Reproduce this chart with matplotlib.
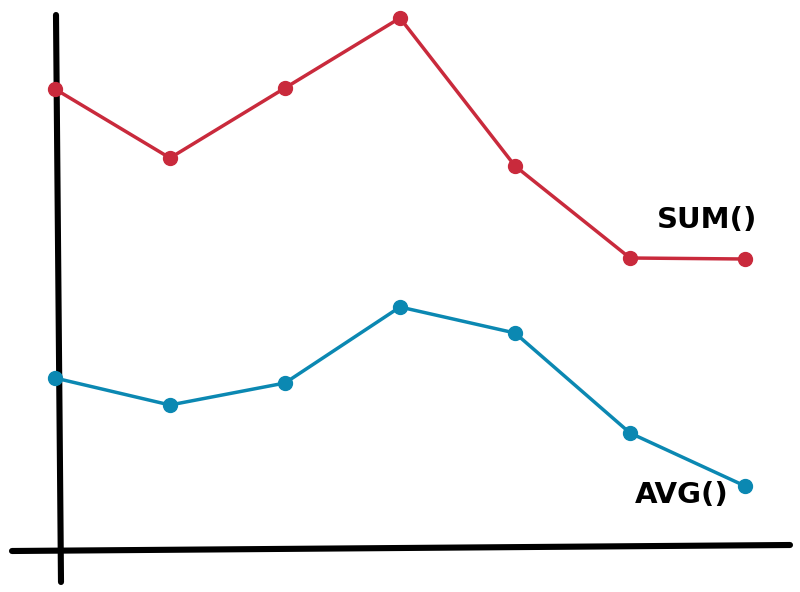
import matplotlib
matplotlib.use("Agg")
import matplotlib.pyplot as plt

# Data (arbitrary units)
periods = [0, 1, 2, 3, 4, 5, 6]
sum_values = [460, 391, 461, 531, 383, 291, 290]
avg_values = [171, 144, 166, 242, 216, 116, 63]
series_labels = ["SUM()", "AVG()"]

RED = "#c92a3c"
BLUE = "#0b88b2"

fig = plt.figure(figsize=(8, 5.92), dpi=100)
ax = fig.add_axes([0, 0, 1, 1])
ax.set_xlim(-0.478, 6.478)
ax.set_ylim(-43, 549)
ax.axis("off")

# hand-drawn style axes (in axes fraction coordinates)
ax.plot([56 / 800, 61 / 800], [1 - 15 / 592, 1 - 582 / 592], transform=ax.transAxes,
        color="black", lw=4.4, solid_capstyle="round", zorder=1)
ax.plot([12 / 800, 790 / 800], [1 - 551 / 592, 1 - 545 / 592], transform=ax.transAxes,
        color="black", lw=4.4, solid_capstyle="round", zorder=1)

ax.plot(periods, sum_values, color=RED, lw=2.5, marker="o", markersize=10,
        solid_capstyle="round", solid_joinstyle="round", zorder=3)
ax.plot(periods, avg_values, color=BLUE, lw=2.5, marker="o", markersize=10,
        solid_capstyle="round", solid_joinstyle="round", zorder=3)

ax.text(5.67, 329, series_labels[0], ha="center", va="center", fontsize=21,
        fontweight="bold", family="DejaVu Sans", color="black")
ax.text(5.45, 54, series_labels[1], ha="center", va="center", fontsize=21,
        fontweight="bold", family="DejaVu Sans", color="black")

fig.savefig("out.png", dpi=100)
